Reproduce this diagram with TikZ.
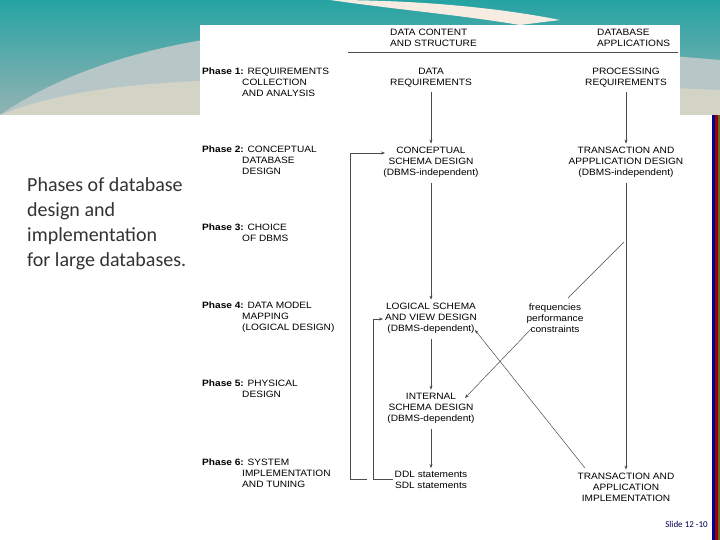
\documentclass[tikz,border=0pt]{standalone}
\usepackage{fontspec}
\setmainfont{Liberation Sans}[FakeStretch=1.1]
\newfontfamily\slidefont{Carlito}
\usetikzlibrary{arrows.meta}
\begin{document}
\begin{tikzpicture}[x=1pt,y=-1pt,
  txt/.style={font=\fontsize{9.2}{11}\selectfont, align=center, inner sep=0pt},
  ltxt/.style={font=\fontsize{9.2}{11}\selectfont, align=left, inner sep=0pt, anchor=north west},
  ln/.style={draw=black!70, line width=0.5pt},
  arr/.style={ln, -{Stealth[length=4pt,width=3pt]}}]
\useasboundingbox (0,0) rectangle (720,540);
% slide background
\fill[white] (0,0) rectangle (720,540);
\shade[top color=teal!60!cyan!70!gray, bottom color=teal!40!gray!60] (0,0) rectangle (720,115);
\fill[teal!25!gray!45] (0,115) .. controls (80,60) and (200,30) .. (340,28) -- (720,60) -- (720,115) -- cycle;
\fill[green!10!gray!30!white!90!brown] (0,115) .. controls (100,75) and (250,70) .. (720,90) -- (720,115) -- cycle;
\fill[white!85!brown] (330,0) .. controls (400,10) and (460,15) .. (520,25) -- (560,20) .. controls (500,8) and (420,0) .. (330,0);
\fill[white] (0,115) rectangle (712,540);
\fill[blue!60!black] (712,115) rectangle (715,540);
\fill[red!60!black] (715,115) rectangle (718,540);
\fill[olive!70!black] (718,115) rectangle (720,540);
% diagram image area
\fill[white] (200,25) rectangle (680,505);
\node[anchor=north west, align=left, inner sep=0pt, font=\slidefont\fontsize{20}{25}\selectfont, text=black!80] (title) at (27,177) {Phases of database\\design and\\implementation\\for large databases.};
\node[anchor=south east, inner sep=0pt, font=\slidefont\fontsize{9}{10}\selectfont, text=black!70!blue] (slideno) at (708,528) {Slide 12 -10};
% headers
\node[ltxt] (hdc) at (390,29) {DATA CONTENT\\AND STRUCTURE};
\node[ltxt] (hda) at (597,29) {DATABASE\\APPLICATIONS};
\coordinate (hl1) at (348,52); \coordinate (hl2) at (678,52);
\draw[ln] (hl1) -- (hl2);
% phases
\node[ltxt] (p1) at (202,68) {\textbf{Phase 1:} REQUIREMENTS\\\hspace{40pt}COLLECTION\\\hspace{40pt}AND ANALYSIS};
\node[ltxt] (p2) at (202,146) {\textbf{Phase 2:} CONCEPTUAL\\\hspace{40pt}DATABASE\\\hspace{40pt}DESIGN};
\node[ltxt] (p3) at (202,224) {\textbf{Phase 3:} CHOICE\\\hspace{40pt}OF DBMS};
\node[ltxt] (p4) at (202,302) {\textbf{Phase 4:} DATA MODEL\\\hspace{40pt}MAPPING\\\hspace{40pt}(LOGICAL DESIGN)};
\node[ltxt] (p5) at (202,380) {\textbf{Phase 5:} PHYSICAL\\\hspace{40pt}DESIGN};
\node[ltxt] (p6) at (202,459) {\textbf{Phase 6:} SYSTEM\\\hspace{40pt}IMPLEMENTATION\\\hspace{40pt}AND TUNING};
% nodes
\node[txt] (dreq) at (431,78) {DATA\\REQUIREMENTS};
\node[txt] (preq) at (626,78) {PROCESSING\\REQUIREMENTS};
\node[txt] (csd) at (431,162) {CONCEPTUAL\\SCHEMA DESIGN\\(DBMS-independent)};
\node[txt] (tad) at (626,162) {TRANSACTION AND\\APPPLICATION DESIGN\\(DBMS-independent)};
\node[txt] (lsd) at (431,318) {LOGICAL SCHEMA\\AND VIEW DESIGN\\(DBMS-dependent)};
\node[txt] (freq) at (555,318) {frequencies\\performance\\constraints};
\node[txt] (isd) at (431,408) {INTERNAL\\SCHEMA DESIGN\\(DBMS-dependent)};
\node[txt] (ddl) at (431,480) {DDL statements\\SDL statements};
\node[txt] (tai) at (626,487) {TRANSACTION AND\\APPLICATION\\IMPLEMENTATION};
% vertical arrows
\draw[arr] ([yshift=-4pt]dreq.south) -- ([yshift=3pt]csd.north);
\draw[arr] ([yshift=-4pt]preq.south) -- ([yshift=3pt]tad.north);
\draw[arr] ([yshift=-6pt]csd.south) -- ([yshift=3pt]lsd.north);
\draw[arr] ([yshift=-6pt]tad.south) -- ([yshift=3pt]tai.north);
\draw[arr] ([yshift=-6pt]lsd.south) -- ([yshift=3pt]isd.north);
\draw[arr] ([yshift=-6pt]isd.south) -- ([yshift=3pt]ddl.north);
% feedback loops
\coordinate (fo1) at (367,479); \coordinate (fo2) at (350,479); \coordinate (fo3) at (350,153); \coordinate (fo4) at (385,153);
\draw[arr] (fo1) -- (fo2) -- (fo3) -- (fo4);
\coordinate (fi1) at (393,479); \coordinate (fi2) at (373,479); \coordinate (fi3) at (373,319); \coordinate (fi4) at (383,319);
\draw[arr] (fi1) -- (fi2) -- (fi3) -- (fi4);
% diagonals
\coordinate (dg1) at (624,242); \coordinate (dg2) at (568,298);
\draw[ln] (dg1) -- (dg2);
\coordinate (dg3) at (532,328); \coordinate (dg4) at (465,398);
\draw[arr] (dg3) -- (dg4);
\coordinate (dg5) at (585,468); \coordinate (dg6) at (475,330);
\draw[arr] (dg5) -- (dg6);
\end{tikzpicture}
\end{document}
